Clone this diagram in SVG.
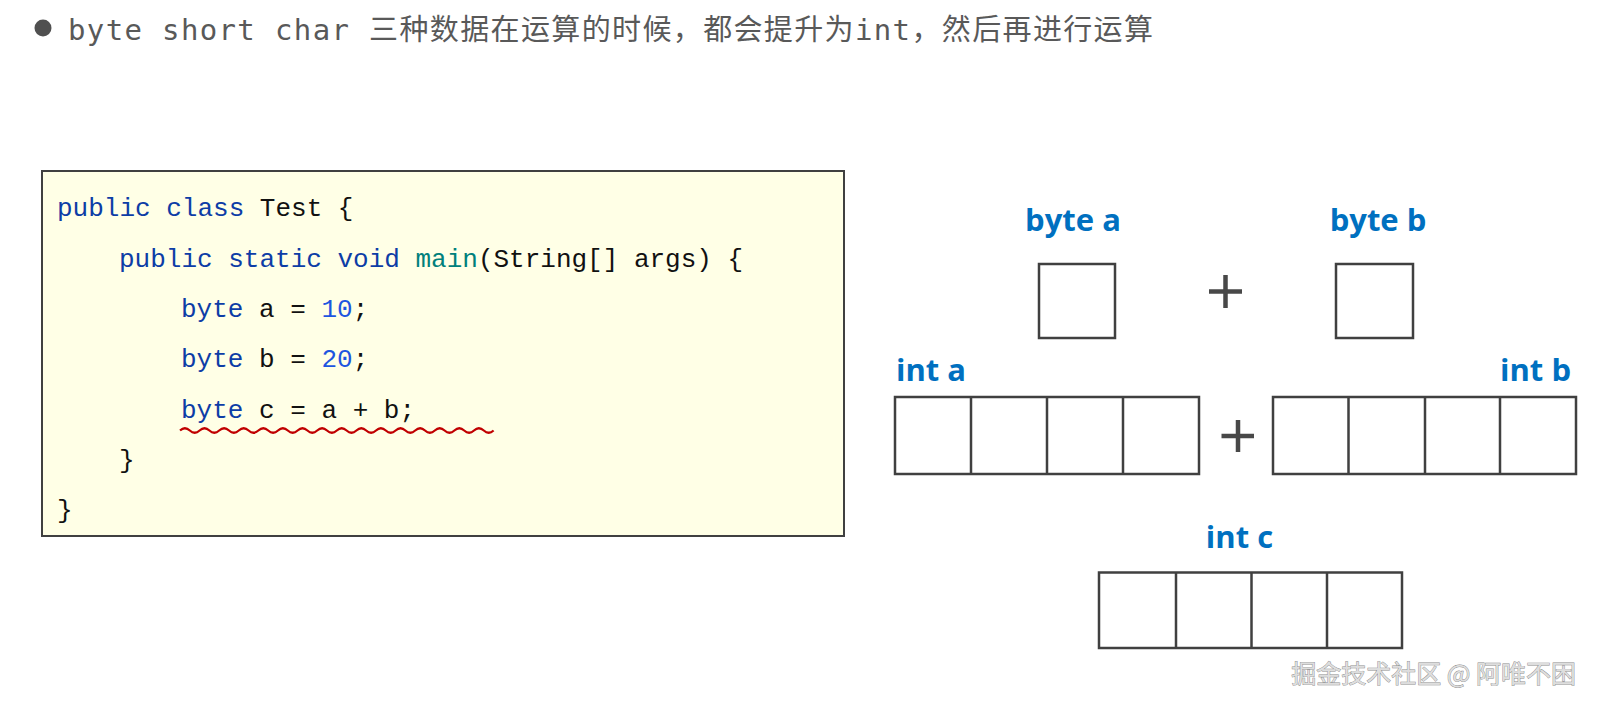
<svg xmlns="http://www.w3.org/2000/svg" width="1597" height="709" viewBox="0 0 1597 709">
<style>
.hdr{font-family:"DejaVu Sans Mono","Noto Sans CJK SC",monospace;font-size:29px;fill:#595959}
.code{font-family:"Liberation Mono","DejaVu Sans Mono",monospace;font-size:26px;fill:#111111}
.kw{fill:#0d3da6}
.fn{fill:#00807c}
.num{fill:#1d55e0}
.lbl{font-family:"Open Sans","Liberation Sans",sans-serif;font-weight:700;font-size:31px;fill:#0070c0}
.cell{fill:#ffffff;stroke:#404040;stroke-width:2.5}
.plus{stroke:#484848;stroke-width:4.5;fill:none}
.wm{font-family:"Noto Sans CJK SC","Noto Sans",sans-serif;font-size:25px;fill:#dedede;stroke:#8a8a8a;stroke-width:0.8;paint-order:stroke}
</style>
<rect x="0" y="0" width="1597" height="709" fill="#ffffff"/>

<g id="header">
<circle cx="43" cy="28" r="8.5" fill="#505050"/>
<text class="hdr" x="68" y="40" textLength="1085" lengthAdjust="spacing">byte short char 三种数据在运算的时候，都会提升为int，然后再进行运算</text>
</g>

<g id="code">
<rect x="42" y="171" width="802" height="365" fill="#ffffe6" stroke="#404040" stroke-width="2"/>
<text class="code" x="57" y="216"><tspan class="kw">public class</tspan> Test {</text>
<text class="code" x="119" y="266.5"><tspan class="kw">public static void</tspan> <tspan class="fn">main</tspan>(String[] args) {</text>
<text class="code" x="181" y="317"><tspan class="kw">byte</tspan> a = <tspan class="num">10</tspan>;</text>
<text class="code" x="181" y="367"><tspan class="kw">byte</tspan> b = <tspan class="num">20</tspan>;</text>
<text class="code" x="181" y="417.5"><tspan class="kw">byte</tspan> c = a + b;</text>
<path d="M180 430.5q4.9 -4.5 9.8 0t9.8 0t9.8 0t9.8 0t9.8 0t9.8 0t9.8 0t9.8 0t9.8 0t9.8 0t9.8 0t9.8 0t9.8 0t9.8 0t9.8 0t9.8 0t9.8 0t9.8 0t9.8 0t9.8 0t9.8 0t9.8 0t9.8 0t9.8 0t9.8 0t9.8 0t9.8 0t9.8 0t9.8 0t9.8 0t9.8 0t9.8 0" fill="none" stroke="#c00000" stroke-width="2.2"/>
<text class="code" x="119" y="468">}</text>
<text class="code" x="57" y="518">}</text>
</g>

<g id="byte-a">
<text class="lbl" x="1073" y="230.5" text-anchor="middle">byte a</text>
<rect class="cell" x="1039" y="264" width="76" height="74"/>
</g>

<g id="byte-b">
<text class="lbl" x="1378" y="230.5" text-anchor="middle">byte b</text>
<rect class="cell" x="1336" y="264" width="77" height="74"/>
</g>

<g id="plus-1">
<path class="plus" d="M1209 291.5H1242M1225.5 275V308"/>
</g>

<g id="int-a">
<text class="lbl" x="896" y="381">int a</text>
<rect class="cell" x="895" y="397" width="304" height="77"/>
<path class="cell" d="M971 397V474M1047 397V474M1123 397V474"/>
</g>

<g id="plus-2">
<path class="plus" d="M1221.5 436H1254M1238 420V452"/>
</g>

<g id="int-b">
<text class="lbl" x="1571" y="381" text-anchor="end">int b</text>
<rect class="cell" x="1273" y="397" width="303" height="77"/>
<path class="cell" d="M1348.5 397V474M1425 397V474M1500 397V474"/>
</g>

<g id="int-c">
<text class="lbl" x="1239.5" y="547.5" text-anchor="middle">int c</text>
<rect class="cell" x="1099" y="572.5" width="303" height="75.5"/>
<path class="cell" d="M1176 572.5V648M1251.5 572.5V648M1327 572.5V648"/>
</g>

<g id="connectors"></g>

<text class="wm" x="1576" y="683" text-anchor="end">掘金技术社区 @ 阿唯不困</text>
</svg>
